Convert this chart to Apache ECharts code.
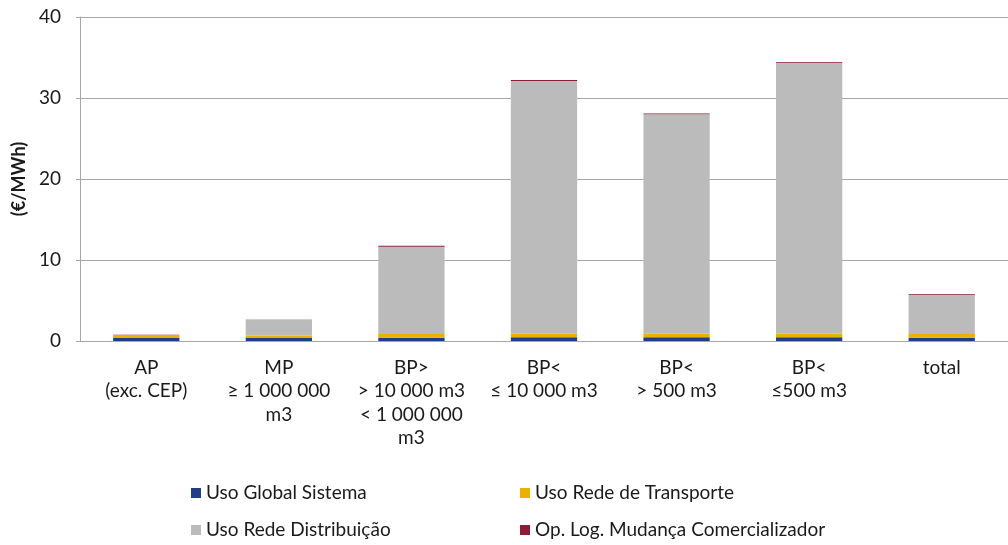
<!DOCTYPE html>
<html>
<head>
<meta charset="utf-8">
<script src="https://cdn.jsdelivr.net/npm/echarts@6/dist/echarts.min.js"></script>
<style>
  html, body { margin: 0; padding: 0; background: #fff; }
  #chart { width: 1008px; height: 545px; }
</style>
</head>
<body>
<div id="chart"></div>
<script>
// Tariff components by consumer segment (€/MWh)
const categories = [
  'AP\n(exc. CEP)',
  'MP\n≥ 1 000 000\nm3',
  'BP>\n> 10 000 m3\n< 1 000 000\nm3',
  'BP<\n≤ 10 000 m3',
  'BP<\n> 500 m3',
  'BP<\n≤500 m3',
  'total'
];
const usoGlobalSistema    = [0.37, 0.37, 0.40, 0.45, 0.45, 0.45, 0.40];
const usoRedeTransporte   = [0.37, 0.30, 0.45, 0.45, 0.45, 0.45, 0.45];
const usoRedeDistribuicao = [0.00, 1.93, 10.80, 31.20, 27.10, 33.45, 4.85];
const opLogMudanca        = [0.02, 0.02, 0.10, 0.12, 0.10, 0.10, 0.10];
const yTicks = [0, 10, 20, 30, 40];

const font = 'Lato, "Noto Sans", sans-serif';
const textColor = '#1a1a1a';
const colors = ['#203d86', '#e9b200', '#bbbbbb', '#8c1d35'];
const names = ['Uso Global Sistema', 'Uso Rede de Transporte', 'Uso Rede Distribuição', 'Op. Log. Mudança Comercializador'];
const values = [usoGlobalSistema, usoRedeTransporte, usoRedeDistribuicao, opLogMudanca];

const chart = echarts.init(document.getElementById('chart'), null, { renderer: 'canvas' });

const legendText = { fontFamily: font, fontSize: 19, color: textColor, lineHeight: 20 };
const legendBase = {
  orient: 'vertical', top: 478, itemWidth: 10, itemHeight: 10, itemGap: 17,
  icon: 'rect', textStyle: legendText
};

chart.setOption({
  animation: false,
  color: colors,
  grid: { left: 80, top: 17, width: 934, height: 324, containLabel: false },
  legend: [
    Object.assign({ data: [names[0], names[2]], left: 186 }, legendBase),
    Object.assign({ data: [names[1], names[3]], left: 515 }, legendBase)
  ],
  xAxis: {
    type: 'category',
    data: categories,
    axisLine: { lineStyle: { color: '#a6a6a6', width: 1 } },
    axisTick: { show: false },
    axisLabel: {
      interval: 0, margin: 15, fontFamily: font, fontSize: 19,
      color: textColor, lineHeight: 23.5, align: 'center'
    }
  },
  yAxis: {
    type: 'value',
    min: yTicks[0], max: yTicks[yTicks.length - 1], interval: 10,
    name: '(€/MWh)', nameLocation: 'middle', nameGap: 51, nameRotate: 90,
    nameTextStyle: { fontFamily: font, fontSize: 18, fontWeight: 'bold', color: textColor },
    axisLine: { show: true, lineStyle: { color: '#a6a6a6', width: 1 } },
    axisTick: { show: true, length: 4, lineStyle: { color: '#a6a6a6' } },
    axisLabel: { fontFamily: font, fontSize: 19, color: textColor, margin: 19 },
    splitLine: { lineStyle: { color: '#a6a6a6', width: 1 } }
  },
  series: names.map((n, i) => ({
    name: n,
    type: 'bar',
    stack: 'total',
    barWidth: '50%',
    data: values[i],
    itemStyle: { color: colors[i] }
  }))
});
</script>
</body>
</html>
